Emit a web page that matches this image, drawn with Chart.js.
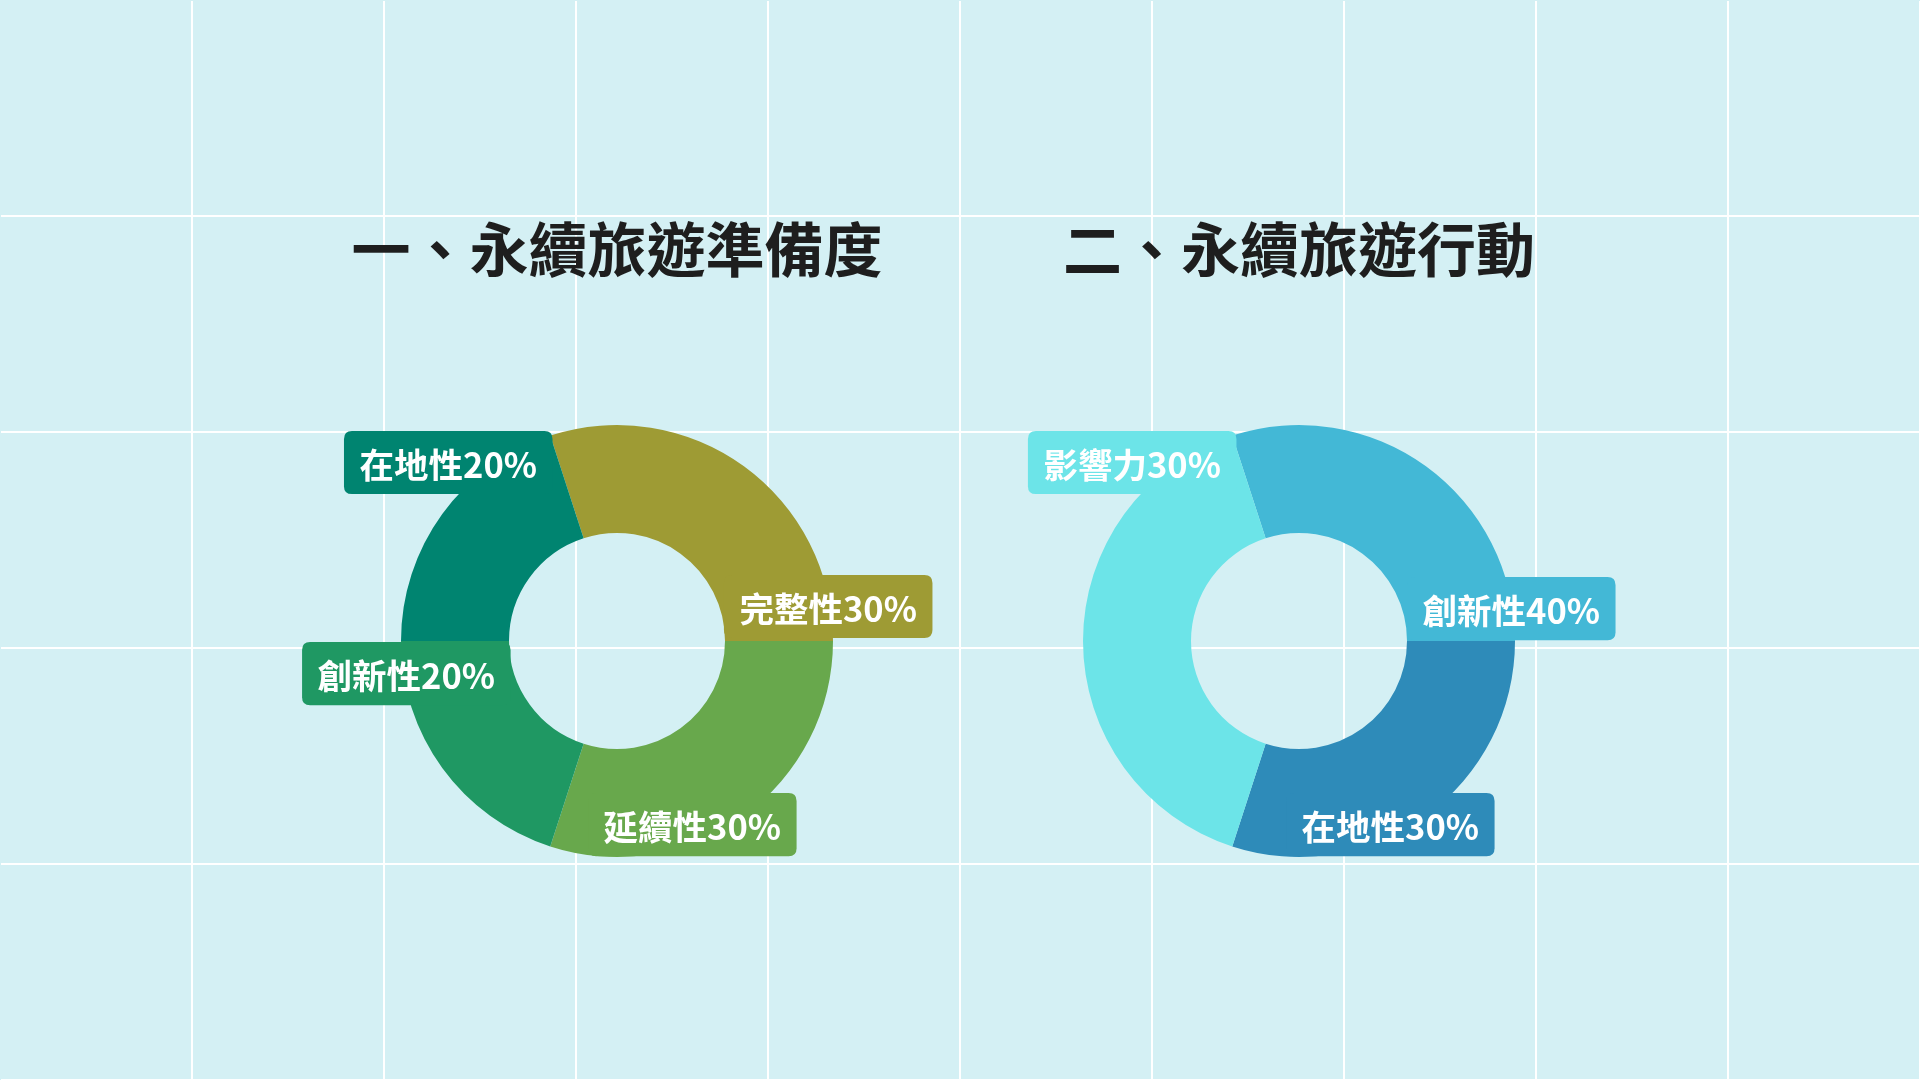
<!DOCTYPE html>
<html>
<head>
<meta charset="utf-8">
<script src="https://cdn.jsdelivr.net/npm/chart.js@4/dist/chart.umd.min.js"></script>
<style>
html, body { margin: 0; padding: 0; width: 1920px; height: 1080px; overflow: hidden; background: #d4f0f4; }
#grid { position: absolute; left: 1px; top: 1px; width: 1919px; height: 1079px;
  background-image: linear-gradient(to right, #ffffff 2px, transparent 2px), linear-gradient(to bottom, #ffffff 2px, transparent 2px);
  background-size: 192px 216px; background-position: 190px 214px; }
canvas { position: absolute; top: 0; }
#prep { left: 0; }
#action { left: 960px; }
</style>
</head>
<body>
<div id="grid"></div>
<canvas id="prep" width="960" height="1080"></canvas>
<canvas id="action" width="960" height="1080"></canvas>
<script>
// ---- data ----
const prepTitle = '一、永續旅遊準備度';
const prepCategories = ['完整性', '延續性', '創新性', '在地性'];
const prepValues = [30, 30, 20, 20];
const prepLabelTexts = ['完整性30%', '延續性30%', '創新性20%', '在地性20%'];

const actionTitle = '二、永續旅遊行動';
const actionCategories = ['創新性', '在地性', '影響力'];
const actionValues = [30, 30, 40];            // arc shares as drawn in the picture
const actionLabelTexts = ['創新性40%', '在地性30%', '影響力30%'];

// ---- styles / placement (kept apart from data) ----
const prepColors = ['#9e9b34', '#68a84c', '#1f9863', '#008470'];
const actionColors = ['#43b8d6', '#2e8bb9', '#6ce4e8'];
// label box top-left offsets from the doughnut centre, in units of the outer radius
const prepLabelOffsets = [[0.495, -0.306], [-0.134, 0.704], [-1.458, 0.005], [-1.264, -0.972]];
const actionLabelOffsets = [[0.5, -0.296], [-0.06, 0.704], [-1.255, -0.972]];
const FONT = '"Noto Sans CJK TC", "Noto Sans CJK SC", "Noto Sans", sans-serif';

function roundRectPath(ctx, x, y, w, h, r) {
  ctx.beginPath();
  ctx.moveTo(x + r, y);
  ctx.lineTo(x + w - r, y);
  ctx.quadraticCurveTo(x + w, y, x + w, y + r);
  ctx.lineTo(x + w, y + h - r);
  ctx.quadraticCurveTo(x + w, y + h, x + w - r, y + h);
  ctx.lineTo(x + r, y + h);
  ctx.quadraticCurveTo(x, y + h, x, y + h - r);
  ctx.lineTo(x, y + r);
  ctx.quadraticCurveTo(x, y, x + r, y);
  ctx.closePath();
}

function boxLabelPlugin(title, texts, colors, offsets) {
  return {
    id: 'boxLabels',
    afterDatasetsDraw(chart) {
      const meta = chart.getDatasetMeta(0);
      const a0 = meta.data[0];
      const cx = a0.x, cy = a0.y, R = a0.outerRadius;
      const ctx = chart.ctx;
      ctx.save();
      // title
      ctx.font = 'bold ' + Math.round(R * 0.273) + 'px ' + FONT;
      ctx.fillStyle = '#1e1e1e';
      ctx.textAlign = 'center';
      ctx.textBaseline = 'middle';
      ctx.fillText(title, cx, cy - R * 1.81);
      // label boxes
      ctx.font = 'bold ' + (R * 0.1595).toFixed(1) + 'px ' + FONT;
      ctx.textAlign = 'left';
      const h = R * 0.292, pad = R * 0.072, rad = R * 0.037;
      texts.forEach((t, i) => {
        const w = ctx.measureText(t).width + pad * 2;
        const x = cx + offsets[i][0] * R;
        const y = cy + offsets[i][1] * R;
        ctx.fillStyle = colors[i];
        roundRectPath(ctx, x, y, w, h, rad);
        ctx.fill();
        ctx.fillStyle = '#ffffff';
        ctx.fillText(t, x + pad, y + h / 2 + 2);
      });
      ctx.restore();
    }
  };
}

function makeChart(id, cats, vals, colors, padding, plugin) {
  return new Chart(document.getElementById(id), {
    type: 'doughnut',
    data: {
      labels: cats,
      datasets: [{ data: vals, backgroundColor: colors, borderWidth: 0, hoverOffset: 0 }]
    },
    options: {
      responsive: false,
      animation: false,
      events: [],
      cutout: '50%',
      rotation: -18,
      layout: { padding: padding },
      plugins: { legend: { display: false }, tooltip: { enabled: false }, title: { display: false } }
    },
    plugins: [plugin]
  });
}

function draw() {
  makeChart('prep', prepCategories, prepValues, prepColors,
    { left: 401, right: 127, top: 425, bottom: 223 },
    boxLabelPlugin(prepTitle, prepLabelTexts, prepColors, prepLabelOffsets));
  makeChart('action', actionCategories, actionValues, actionColors,
    { left: 123, right: 405, top: 425, bottom: 223 },
    boxLabelPlugin(actionTitle, actionLabelTexts, actionColors, actionLabelOffsets));
}

if (document.fonts && document.fonts.load) {
  Promise.all([
    document.fonts.load('bold 59px "Noto Sans CJK TC"', '永續旅遊'),
    document.fonts.load('bold 34px "Noto Sans CJK TC"', '在地性20%')
  ]).then(draw, draw);
} else {
  draw();
}
</script>
</body>
</html>
